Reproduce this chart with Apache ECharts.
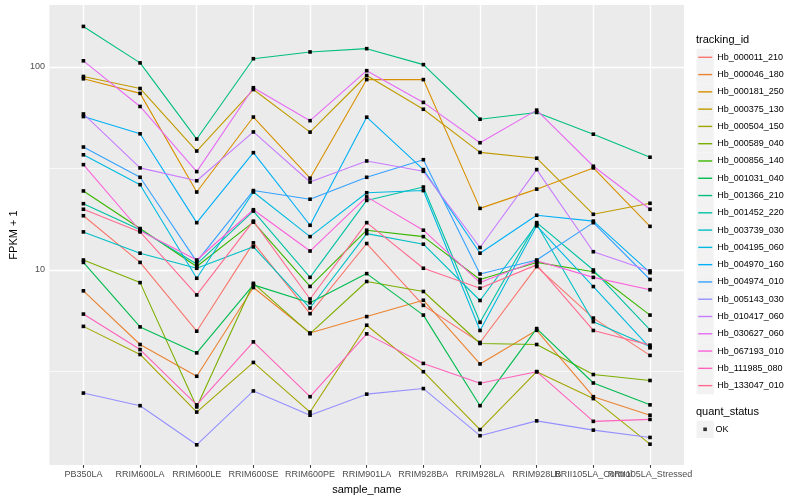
<!DOCTYPE html>
<html><head><meta charset="utf-8">
<script src="https://cdn.jsdelivr.net/npm/echarts@6/dist/echarts.min.js"></script>
<style>html,body{margin:0;padding:0;background:#fff}#c{width:800px;height:500px}</style>
</head><body><div id="c"></div>
<script>
const categories = ['PB350LA','RRIM600LA','RRIM600LE','RRIM600SE','RRIM600PE','RRIM901LA','RRIM928BA','RRIM928LA','RRIM928LB','RRII105LA_Control','RRII105LA_Stressed'];
const trackingIds = ['Hb_000011_210','Hb_000046_180','Hb_000181_250','Hb_000375_130','Hb_000504_150','Hb_000589_040','Hb_000856_140','Hb_001031_040','Hb_001366_210','Hb_001452_220','Hb_003739_030','Hb_004195_060','Hb_004970_160','Hb_004974_010','Hb_005143_030','Hb_010417_060','Hb_030627_060','Hb_067193_010','Hb_111985_080','Hb_133047_010'];
const lineColors = ['#F8766D','#EA8331','#D89000','#C09B00','#A3A500','#7CAE00','#39B600','#00BB4E','#00BF7D','#00C1A3','#00BFC4','#00BAE0','#00B0F6','#35A2FF','#9590FF','#C77CFF','#E76BF3','#FA62DB','#FF62BC','#FF6C91'];

const hb000011_210 = [18.5, 10.9, 5.0, 13.6, 6.1, 13.5, 6.7, 4.4, 10.4, 5.8, 3.8];
const hb000046_180 = [7.9, 4.3, 3.0, 8.2, 4.9, 5.9, 7.1, 3.45, 5.05, 2.38, 1.93];
const hb000181_250 = [87.3, 74.0, 24.2, 56.6, 28.3, 86.5, 86.5, 20.1, 25.0, 31.8, 16.4];
const hb000375_130 = [89.6, 78.2, 38.5, 77.3, 47.7, 90.6, 61.8, 37.9, 35.5, 18.8, 21.3];
const hb000504_150 = [5.28, 3.84, 2.0, 3.51, 2.0, 5.35, 3.16, 1.64, 3.16, 2.33, 1.39];
const hb000589_040 = [11.2, 8.67, 2.12, 8.6, 4.86, 8.78, 7.84, 4.35, 4.3, 3.06, 2.86];
const hb000856_140 = [24.5, 16.0, 10.4, 17.2, 8.3, 15.7, 14.6, 8.98, 10.9, 9.8, 6.0];
const hb001031_040 = [10.9, 5.25, 3.91, 8.45, 6.9, 9.6, 6.0, 2.15, 5.15, 2.78, 2.17];
const hb001366_210 = [158, 104.5, 44.1, 109.6, 118.3, 122.8, 102.5, 55.2, 59.6, 46.6, 35.9];
const hb001452_220 = [21.2, 15.8, 10.7, 19.5, 9.2, 22.0, 25.6, 5.53, 17.1, 10.0, 5.07];
const hb003739_030 = [15.4, 12.1, 10.2, 13.0, 6.5, 15.1, 13.4, 7.08, 16.8, 5.57, 4.2];
const hb004195_060 = [36.9, 26.3, 9.11, 24.2, 14.6, 24.0, 24.6, 5.04, 16.5, 8.29, 4.14];
const hb004970_160 = [56.9, 46.8, 17.1, 37.8, 16.6, 56.5, 31.2, 12.1, 18.6, 17.4, 9.7];
const hb004974_010 = [40.3, 28.6, 11.0, 24.6, 22.3, 28.6, 34.9, 9.56, 11.2, 17.1, 8.98];
const hb005143_030 = [2.48, 2.15, 1.38, 2.54, 1.93, 2.45, 2.61, 1.53, 1.81, 1.63, 1.5];
const hb010417_060 = [58.6, 31.8, 27.5, 47.8, 27.1, 34.4, 30.6, 12.9, 31.2, 12.3, 9.9];
const hb030627_060 = [107, 63.8, 30.5, 78.9, 54.3, 95.7, 66.8, 42.3, 61.2, 32.4, 19.9];
const hb067193_010 = [33.0, 15.6, 11.2, 19.8, 12.4, 22.9, 15.7, 8.67, 11.1, 9.2, 8.0];
const hb111985_080 = [6.07, 4.06, 2.17, 4.43, 2.38, 4.85, 3.47, 2.77, 3.16, 1.8, 1.84];
const hb133047_010 = [19.9, 15.4, 7.54, 17.4, 7.2, 17.1, 10.2, 8.14, 10.6, 5.04, 4.27];

const seriesValues = [hb000011_210, hb000046_180, hb000181_250, hb000375_130, hb000504_150, hb000589_040, hb000856_140, hb001031_040, hb001366_210, hb001452_220, hb003739_030, hb004195_060, hb004970_160, hb004974_010, hb005143_030, hb010417_060, hb030627_060, hb067193_010, hb111985_080, hb133047_010];

const yMajorTicks = [10, 100];
const yMinorTicks = [3.1623, 31.623];
const quantStatus = ['OK'];

const FONT = "'Liberation Sans', Arial, Helvetica, sans-serif";
const chart = echarts.init(document.getElementById('c'), null, {renderer: 'canvas'});
const catIdx = categories.map((c, i) => i);
const evenIdx = catIdx.filter(i => i % 2 === 0);
const oddIdx = catIdx.filter(i => i % 2 === 1);

const gridLineData = [
  ...yMajorTicks.map(v => ({yAxis: v, lineStyle: {color: '#ffffff', width: 1.4, type: 'solid'}})),
  ...yMinorTicks.map(v => ({yAxis: v, lineStyle: {color: '#ffffff', width: 0.7, type: 'solid'}})),
  ...catIdx.map(i => ({xAxis: i, lineStyle: {color: '#ffffff', width: 1.4, type: 'solid'}}))
];

const series = [{
  type: 'line', name: '__grid', data: [], silent: true, z: 1,
  markLine: {silent: true, symbol: 'none', z: 1, animation: false,
    label: {show: false}, emphasis: {disabled: true}, data: gridLineData}
}];
trackingIds.forEach((id, k) => {
  series.push({
    type: 'line', name: id, z: 2,
    data: seriesValues[k].map((v, i) => [i, v]),
    symbol: 'rect', symbolSize: 3.6, showSymbol: true,
    lineStyle: {color: lineColors[k], width: 1.1},
    itemStyle: {color: '#000000'},
    emphasis: {disabled: true}
  });
});
series.push({type: 'scatter', name: quantStatus[0], data: [], itemStyle: {color: '#000'}, symbol: 'rect'});

const keySize = 17.28, firstKeyY = 57.3;
const graphics = [];
trackingIds.forEach((id, k) => {
  graphics.push({type: 'rect', z: -1, shape: {x: 696.5, y: firstKeyY - keySize / 2 + k * keySize, width: keySize, height: keySize}, style: {fill: '#F2F2F2'}});
});
graphics.push({type: 'rect', z: -1, shape: {x: 696.5, y: 429.3 - keySize / 2, width: keySize, height: keySize}, style: {fill: '#F2F2F2'}});
graphics.push({type: 'text', x: 696, y: 40.3, style: {text: 'tracking_id', font: '11px ' + FONT, fill: '#000', verticalAlign: 'middle', align: 'left'}});
graphics.push({type: 'text', x: 696, y: 412.3, style: {text: 'quant_status', font: '11px ' + FONT, fill: '#000', verticalAlign: 'middle', align: 'left'}});

function catAxis(idx, withName) {
  const ax = {
    type: 'value', min: -0.6, max: 10.6, position: 'bottom', offset: 0,
    axisLine: {show: false},
    axisTick: {show: true, customValues: idx, length: 2.75, lineStyle: {color: '#333333', width: 1.07}},
    axisLabel: {customValues: idx, formatter: v => categories[Math.round(v)], fontSize: 9, color: '#4D4D4D', margin: 5,
      hideOverlap: false, showMinLabel: true, showMaxLabel: true, fontFamily: FONT},
    splitLine: {show: false}
  };
  if (withName) {
    Object.assign(ax, {name: 'sample_name', nameLocation: 'middle', nameGap: 14,
      nameTextStyle: {fontSize: 11, color: '#000', fontFamily: FONT}});
  }
  return ax;
}

chart.setOption({
  animation: false,
  textStyle: {fontFamily: FONT},
  grid: {left: 40, right: 116, top: 5, bottom: 32, show: true, backgroundColor: '#EBEBEB', borderWidth: 0, containLabel: false},
  xAxis: [catAxis(evenIdx, true), catAxis(oddIdx, false)],
  yAxis: {
    type: 'log', logBase: 10, min: 1.0965, max: 201.4,
    name: 'FPKM + 1', nameLocation: 'middle', nameGap: 22, nameRotate: 90,
    nameTextStyle: {fontSize: 11, color: '#000', fontFamily: FONT},
    axisLine: {show: false},
    axisTick: {show: true, length: 2.75, lineStyle: {color: '#333333', width: 1.07}},
    axisLabel: {fontSize: 9, color: '#4D4D4D', margin: 4.5, showMinLabel: false, showMaxLabel: false, fontFamily: FONT,
      formatter: v => (yMajorTicks.indexOf(Math.round(v)) >= 0 ? String(Math.round(v)) : '')},
    splitLine: {show: false}
  },
  legend: [{
    data: trackingIds.map((n, k) => ({name: n, itemStyle: {color: lineColors[k], borderWidth: 0}})),
    orient: 'vertical', left: 698.2, top: firstKeyY - 6, padding: 0,
    itemGap: keySize - 12, itemWidth: 14, itemHeight: 1.4, icon: 'rect',
    selectedMode: false,
    textStyle: {fontSize: 9, color: '#000', lineHeight: 12, fontFamily: FONT}
  }, {
    data: quantStatus.map(n => ({name: n, itemStyle: {color: '#000', borderWidth: 0}})),
    orient: 'vertical', left: 703.3, top: 429.3 - 6, padding: 0,
    itemWidth: 3.6, itemHeight: 3.6, icon: 'rect', selectedMode: false,
    textStyle: {fontSize: 9, color: '#000', lineHeight: 12, padding: [0, 0, 0, 3.6], fontFamily: FONT}
  }],
  graphic: {elements: graphics},
  series: series
});
</script>
</body></html>
